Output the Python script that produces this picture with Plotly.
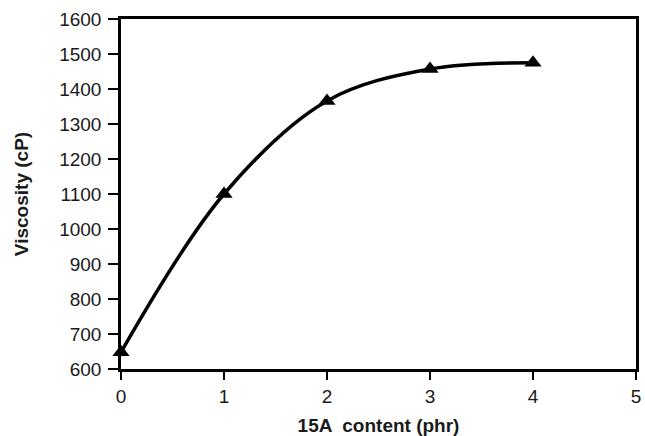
import plotly.graph_objects as go

# Viscosity of the resin versus 15A clay loading
content_phr = [0, 1, 2, 3, 4]
viscosity_cp = [648, 1100, 1366, 1457, 1475]

x_ticks = [0, 1, 2, 3, 4, 5]
y_ticks = [600, 700, 800, 900, 1000, 1100, 1200, 1300, 1400, 1500, 1600]

fig = go.Figure()
fig.add_trace(go.Scatter(
    x=content_phr,
    y=viscosity_cp,
    mode="lines+markers",
    line=dict(color="black", width=3.5, shape="spline", smoothing=1.0),
    marker=dict(symbol="triangle-up", size=15, color="black"),
    showlegend=False,
    cliponaxis=False,
))

tick_font = dict(family="Liberation Sans, Arial, sans-serif", size=19, color="#1a1a1a")
title_font = dict(family="Liberation Sans, Arial, sans-serif", size=19, color="#1a1a1a")

fig.update_xaxes(
    range=[0, 5],
    tickvals=x_ticks,
    ticks="outside", ticklen=8, tickwidth=2, tickcolor="black",
    ticklabelstandoff=0,
    showline=True, linecolor="black", linewidth=2.5, mirror=True,
    showgrid=False, zeroline=False, automargin=False,
    tickfont=tick_font,
    title=dict(text="<b>15A  content (phr)</b>", font=title_font, standoff=17),
)
fig.update_yaxes(
    range=[600, 1600],
    tickvals=y_ticks,
    ticks="outside", ticklen=10, tickwidth=2, tickcolor="black",
    ticklabelstandoff=3,
    showline=True, linecolor="black", linewidth=2.5, mirror=True,
    showgrid=False, zeroline=False, automargin=False,
    tickfont=tick_font,
    title=dict(text="<b>Viscosity (cP)</b>", font=title_font, standoff=26),
)

fig.update_layout(
    width=645, height=436,
    margin=dict(l=121, r=9, t=19, b=67),
    paper_bgcolor="white",
    plot_bgcolor="white",
)

fig.write_html("out.html")
